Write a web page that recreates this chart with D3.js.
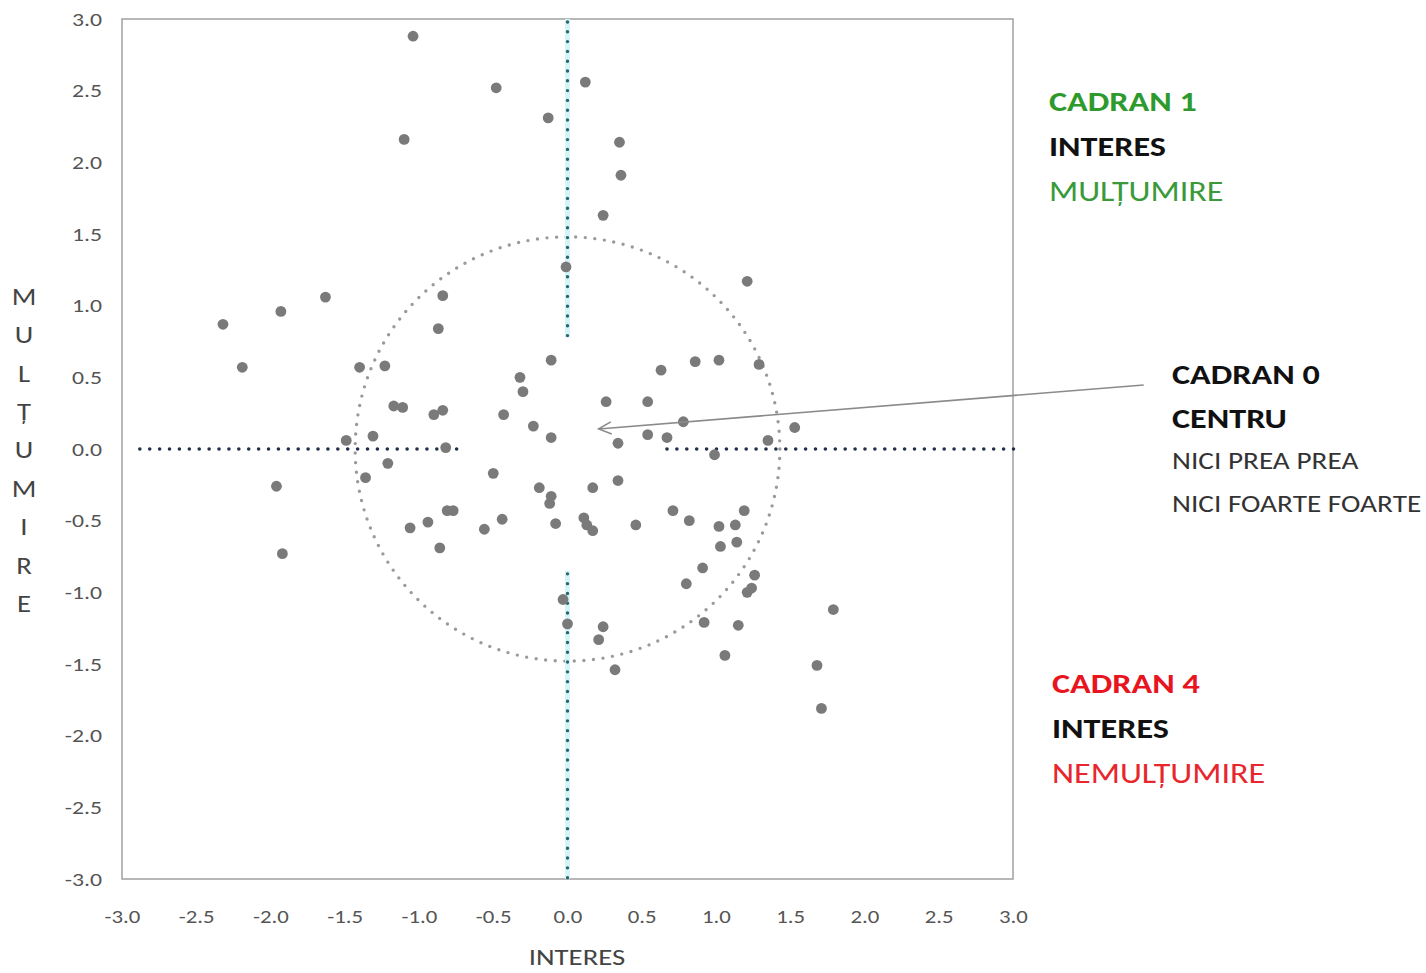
<!DOCTYPE html>
<html><head><meta charset="utf-8">
<script src="https://cdn.jsdelivr.net/npm/d3@7/dist/d3.min.js"></script>
<style>body{margin:0;background:#fff}svg{display:block}text{font-family:Carlito,Calibri,Lato,"Open Sans",sans-serif}</style>
</head><body>
<script>
// INTERES (x) values
const interes = [-1.04,-0.48,0.12,-0.13,-1.10,0.35,0.36,0.24,-0.01,1.21,-1.63,-1.93,-2.32,-0.84,-0.87,-2.19,-1.40,-1.23,-0.11,-0.32,-0.30,0.63,0.86,1.02,1.29,-1.17,-1.11,-0.90,-0.84,-0.43,0.26,0.54,-0.23,0.78,1.53,-1.31,-1.49,-0.11,0.34,0.54,0.67,1.35,-0.82,0.99,-1.21,-1.36,-0.50,-1.96,-0.19,-0.11,-0.12,0.17,0.34,-0.08,-0.44,-0.56,-0.81,-0.77,-0.94,-1.06,-0.86,-1.92,0.71,0.82,1.19,1.02,1.13,1.03,1.14,0.91,1.26,0.46,0.11,0.13,0.17,0.80,1.24,1.21,1.79,-0.03,0.00,0.24,0.21,0.32,0.92,1.15,1.06,1.68,1.71];
// MULȚUMIRE (y) values
const multumire = [2.88,2.52,2.56,2.31,2.16,2.14,1.91,1.63,1.27,1.17,1.06,0.96,0.87,1.07,0.84,0.57,0.57,0.58,0.62,0.50,0.40,0.55,0.61,0.62,0.59,0.30,0.29,0.24,0.27,0.24,0.33,0.33,0.16,0.19,0.15,0.09,0.06,0.08,0.04,0.10,0.08,0.06,0.01,-0.04,-0.10,-0.20,-0.17,-0.26,-0.27,-0.33,-0.38,-0.27,-0.22,-0.52,-0.49,-0.56,-0.43,-0.43,-0.51,-0.55,-0.69,-0.73,-0.43,-0.50,-0.43,-0.54,-0.53,-0.68,-0.65,-0.83,-0.88,-0.53,-0.48,-0.53,-0.57,-0.94,-0.97,-1.00,-1.12,-1.05,-1.22,-1.24,-1.33,-1.54,-1.21,-1.23,-1.44,-1.51,-1.81];
const tickValues = [-3.0,-2.5,-2.0,-1.5,-1.0,-0.5,0.0,0.5,1.0,1.5,2.0,2.5,3.0];
// reference lines in data units
const vSegments = [[0.78,3.0],[-3.0,-0.85]];
const hSegments = [[-2.88,-0.74],[0.67,3.02]];
const centerCircle = {cx:0, cy:0, rx:1.43, ry:1.48};
const arrow = {x1:3.88, y1:0.447, x2:0.21, y2:0.14};
const yTitle = ["M","U","L","Ț","U","M","I","R","E"];
const notes = [
  {x:1049, y:104, t:"CADRAN 1", c:"#2e9a2e", w:"bold", s:28},
  {x:1049, y:149, t:"INTERES", c:"#111", w:"bold", s:28},
  {x:1049, y:194, t:"MULȚUMIRE", c:"#3a9a3a", w:"normal", s:28},
  {x:1172, y:377, t:"CADRAN 0", c:"#111", w:"bold", s:28},
  {x:1172, y:421, t:"CENTRU", c:"#111", w:"bold", s:28},
  {x:1172, y:463, t:"NICI PREA PREA", c:"#333", w:"normal", s:24},
  {x:1172, y:506, t:"NICI FOARTE FOARTE", c:"#333", w:"normal", s:24},
  {x:1052, y:686, t:"CADRAN 4", c:"#e8141e", w:"bold", s:28},
  {x:1052, y:731, t:"INTERES", c:"#111", w:"bold", s:28},
  {x:1052, y:776, t:"NEMULȚUMIRE", c:"#e8262e", w:"normal", s:28}
];

const W=1426,H=973, SX=1.22;
const svg=d3.select("body").append("svg").attr("width",W).attr("height",H);
const x=d3.scaleLinear().domain([-3,3]).range([122,1013]);
const y=d3.scaleLinear().domain([-3,3]).range([879,19]);

// plot border
svg.append("rect").attr("x",x(-3)).attr("y",y(3)).attr("width",x(3)-x(-3)).attr("height",y(-3)-y(3))
  .attr("fill","none").attr("stroke","#a0a0a0").attr("stroke-width",1.5);

// axes (labels only)
const fmt=d=>d3.format(".1f")(d).replace("−","-");
const xa=svg.append("g").attr("transform",`translate(0,${y(-3)+38})`)
  .call(d3.axisBottom(x).tickValues(tickValues).tickFormat(fmt).tickSize(0));
xa.select(".domain").remove();
xa.selectAll("text").attr("font-size",19).attr("fill","#555").attr("dy","0.32em").attr("y",0)
  .attr("transform",`scale(1.2,1)`);
const ya=svg.append("g").attr("transform",`translate(102,0)`)
  .call(d3.axisLeft(y).tickValues(tickValues).tickFormat(fmt).tickSize(0));
ya.select(".domain").remove();
ya.selectAll("text").attr("font-size",19).attr("fill","#555").attr("x",0)
  .attr("transform",`scale(1.25,1)`);

// axis titles
svg.append("text").attr("transform","translate(577,960) scale(1.25,1)").attr("text-anchor","middle").attr("dominant-baseline","middle")
  .attr("font-size",23).attr("fill","#444").text("INTERES");
svg.append("g").selectAll("text").data(yTitle).join("text")
  .attr("transform",(d,i)=>`translate(24,${299+i*38.4}) scale(1.2,1)`).attr("text-anchor","middle").attr("dominant-baseline","middle")
  .attr("font-size",24).attr("fill","#444").text(d=>d);

// circle
svg.append("ellipse").attr("cx",x(centerCircle.cx)).attr("cy",y(centerCircle.cy))
  .attr("rx",x(centerCircle.rx)-x(0)).attr("ry",y(0)-y(centerCircle.ry))
  .attr("fill","none").attr("stroke","#9a9a9a").attr("stroke-width",3.4)
  .attr("stroke-dasharray","0,9.6").attr("stroke-linecap","round");

// vertical dotted line (teal with cyan halo)
vSegments.forEach(s=>{
  svg.append("line").attr("x1",x(0)).attr("x2",x(0)).attr("y1",y(s[1])).attr("y2",y(s[0]))
    .attr("stroke","#d4f4f8").attr("stroke-width",5);
  svg.append("line").attr("x1",x(0)).attr("x2",x(0)).attr("y1",y(s[1])+3).attr("y2",y(s[0]))
    .attr("stroke","#2a6470").attr("stroke-width",3.4).attr("stroke-dasharray","0,9.8").attr("stroke-linecap","round");
});
// horizontal dotted line (navy)
hSegments.forEach(s=>{
  svg.append("line").attr("x1",x(s[0])).attr("x2",x(s[1])).attr("y1",y(0)).attr("y2",y(0))
    .attr("stroke","#1f2f4a").attr("stroke-width",3.6).attr("stroke-dasharray","0,9.9").attr("stroke-linecap","round");
});

// points
svg.append("g").selectAll("circle").data(interes.map((v,i)=>[v,multumire[i]])).join("circle")
  .attr("cx",d=>x(d[0])).attr("cy",d=>y(d[1])).attr("r",5.4).attr("fill","#7a7a7a");

// arrow
const ax1=x(arrow.x1),ay1=y(arrow.y1),ax2=x(arrow.x2),ay2=y(arrow.y2);
svg.append("line").attr("x1",ax1).attr("y1",ay1).attr("x2",ax2).attr("y2",ay2)
  .attr("stroke","#8a8a8a").attr("stroke-width",1.6);
const ang=Math.atan2(ay1-ay2,ax1-ax2), L=14, sp=0.45;
svg.append("path").attr("d",`M${ax2+L*Math.cos(ang+sp)},${ay2+L*Math.sin(ang+sp)}L${ax2},${ay2}L${ax2+L*Math.cos(ang-sp)},${ay2+L*Math.sin(ang-sp)}`)
  .attr("fill","none").attr("stroke","#8a8a8a").attr("stroke-width",1.6);

// notes
svg.append("g").selectAll("text").data(notes).join("text")
  .attr("transform",d=>`translate(${d.x},${d.y}) scale(${SX},1)`).attr("dominant-baseline","middle")
  .attr("font-size",d=>d.s).attr("font-weight",d=>d.w).attr("fill",d=>d.c).text(d=>d.t);
</script>
</body></html>
